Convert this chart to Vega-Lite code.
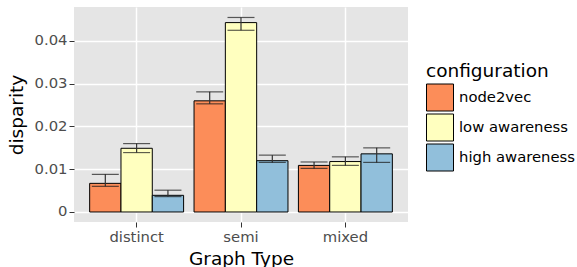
{
  "$schema": "https://vega.github.io/schema/vega-lite/v6.json",
  "width": 334,
  "height": 215,
  "autosize": {"type": "none"},
  "padding": {"left": 74, "top": 7, "right": 169, "bottom": 45},
  "background": "white",
  "config": {
    "font": "DejaVu Sans",
    "view": {"fill": "#E5E5E5", "stroke": null}
  },
  "data": {
    "values": [
      {"type": "distinct", "configuration": "node2vec", "disparity": 0.0067, "lo": 0.0060, "hi": 0.0088},
      {"type": "distinct", "configuration": "low awareness", "disparity": 0.0149, "lo": 0.0139, "hi": 0.0160},
      {"type": "distinct", "configuration": "high awareness", "disparity": 0.0039, "lo": 0.0036, "hi": 0.0051},
      {"type": "semi", "configuration": "node2vec", "disparity": 0.0260, "lo": 0.0253, "hi": 0.0281},
      {"type": "semi", "configuration": "low awareness", "disparity": 0.0443, "lo": 0.0425, "hi": 0.0455},
      {"type": "semi", "configuration": "high awareness", "disparity": 0.0120, "lo": 0.0116, "hi": 0.0133},
      {"type": "mixed", "configuration": "node2vec", "disparity": 0.0109, "lo": 0.0102, "hi": 0.0117},
      {"type": "mixed", "configuration": "low awareness", "disparity": 0.0118, "lo": 0.0109, "hi": 0.0129},
      {"type": "mixed", "configuration": "high awareness", "disparity": 0.0136, "lo": 0.0116, "hi": 0.0150}
    ]
  },
  "encoding": {
    "x": {
      "field": "type", "type": "nominal", "sort": ["distinct", "semi", "mixed"],
      "scale": {"paddingInner": 0.1, "paddingOuter": 0.15},
      "axis": {
        "title": "Graph Type", "labelAngle": 0, "domain": false,
        "grid": true, "gridColor": "white", "gridWidth": 1.5, "bandPosition": 0.5,
        "tickColor": "#333333", "tickSize": 5, "tickWidth": 1,
        "labelFontSize": 14.8, "labelColor": "#4D4D4D", "labelPadding": 2,
        "titleFontSize": 18.5, "titleFontWeight": "normal", "titleColor": "black", "titlePadding": 6
      }
    },
    "xOffset": {
      "field": "configuration", "type": "nominal",
      "sort": ["node2vec", "low awareness", "high awareness"],
      "scale": {"paddingInner": 0, "paddingOuter": 0}
    }
  },
  "layer": [
    {
      "mark": {"type": "bar", "stroke": "black", "strokeWidth": 1},
      "encoding": {
        "y": {
          "field": "disparity", "type": "quantitative",
          "scale": {"domain": [-0.00234, 0.04795], "nice": false, "zero": false},
          "axis": {
            "title": "disparity",
            "values": [0, 0.005, 0.01, 0.015, 0.02, 0.025, 0.03, 0.035, 0.04, 0.045],
            "labelExpr": "round(datum.value*1000) % 10 != 0 ? '' : (datum.value == 0 ? '0' : format(datum.value, '.2f'))",
            "domain": false,
            "grid": true,
            "gridColor": {"condition": {"test": "round(datum.value*1000) % 10 != 0", "value": "#F2F2F2"}, "value": "white"},
            "gridWidth": {"condition": {"test": "round(datum.value*1000) % 10 != 0", "value": 0.7}, "value": 1.5},
            "tickOpacity": {"condition": {"test": "round(datum.value*1000) % 10 != 0", "value": 0}, "value": 1},
            "tickColor": "#333333", "tickSize": 5, "tickWidth": 1,
            "labelFontSize": 14.8, "labelColor": "#4D4D4D", "labelPadding": 2,
            "titleFontSize": 18.5, "titleFontWeight": "normal", "titleColor": "black", "titlePadding": 8
          }
        },
        "color": {
          "field": "configuration", "type": "nominal",
          "scale": {"domain": ["node2vec", "low awareness", "high awareness"], "range": ["#FC8D59", "#FFFFBF", "#91BFDB"]},
          "legend": {
            "title": "configuration", "orient": "none", "legendX": 352, "legendY": 55,
            "titleFontSize": 18.5, "titleFontWeight": "normal", "titleColor": "black", "titlePadding": 3,
            "labelFontSize": 14.8, "labelColor": "black", "labelOffset": 5,
            "symbolType": "square", "symbolSize": 729, "symbolStrokeColor": "black", "symbolStrokeWidth": 1,
            "symbolOpacity": 1, "rowPadding": -2
          }
        }
      }
    },
    {
      "mark": {"type": "rule", "color": "#333333", "strokeWidth": 1.2},
      "encoding": {
        "y": {"field": "lo", "type": "quantitative"},
        "y2": {"field": "hi"}
      }
    },
    {
      "mark": {"type": "tick", "color": "#1a1a1a", "thickness": 1.2, "size": 27},
      "encoding": {"y": {"field": "lo", "type": "quantitative"}}
    },
    {
      "mark": {"type": "tick", "color": "#1a1a1a", "thickness": 1.2, "size": 27},
      "encoding": {"y": {"field": "hi", "type": "quantitative"}}
    }
  ]
}
